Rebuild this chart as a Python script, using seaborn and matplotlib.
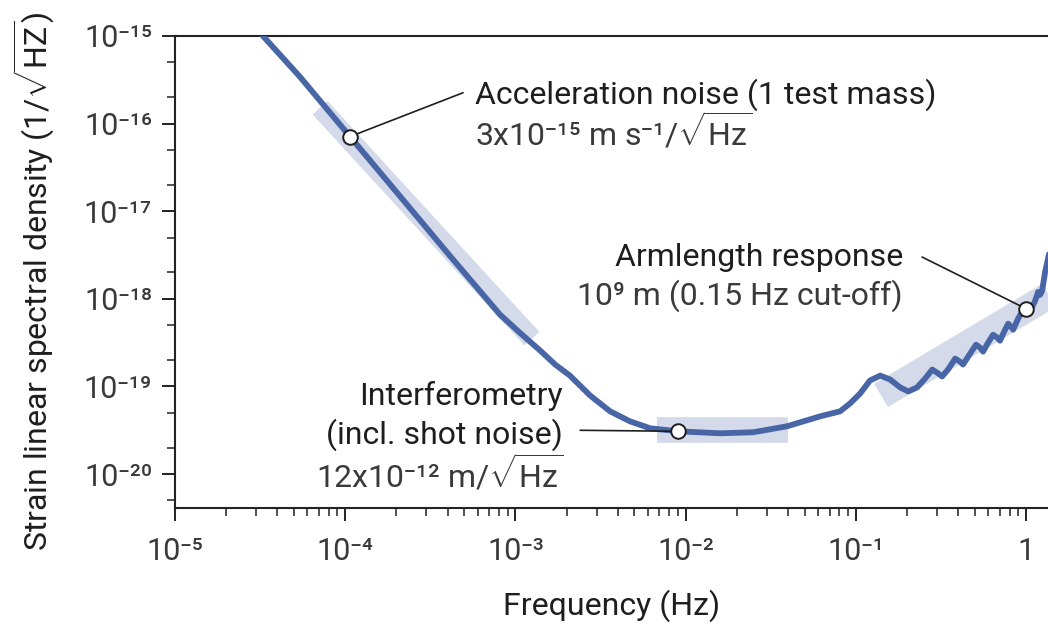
import matplotlib
matplotlib.use("Agg")
import matplotlib.pyplot as plt
import seaborn as sns
import pandas as pd

# ---------------- data ----------------
frequency_hz = [2.95e-5, 5.42e-5, 1.067e-4, 2.10e-4, 4.13e-4, 8.13e-4, 1.06e-3, 1.40e-3,
                1.71e-3, 2.09e-3, 2.74e-3, 3.60e-3, 4.71e-3, 6.18e-3, 9.02e-3,
                1.59e-2, 2.49e-2, 3.94e-2, 6.17e-2, 8.07e-2, 9.25e-2, 0.106,
                0.121, 0.139, 0.159, 0.182, 0.203, 0.229, 0.255, 0.281, 0.304,
                0.321, 0.348, 0.383, 0.409, 0.426, 0.469, 0.508, 0.537, 0.559,
                0.598, 0.640, 0.676, 0.703, 0.743, 0.784, 0.817, 0.839, 0.897,
                0.960, 1.014, 1.070, 1.130, 1.176, 1.208, 1.242, 1.294, 1.384]
strain_asd = [1.26e-15, 3.42e-16, 7.11e-17, 1.48e-17, 3.08e-18, 6.58e-19, 4.11e-19, 2.56e-19,
              1.78e-19, 1.33e-19, 7.91e-20, 5.20e-20, 4.00e-20, 3.33e-20, 3.08e-20,
              2.92e-20, 3.00e-20, 3.51e-20, 4.56e-20, 5.20e-20, 6.41e-20, 8.32e-20,
              1.17e-19, 1.33e-19, 1.20e-19, 9.75e-20, 8.77e-20, 9.75e-20, 1.23e-19,
              1.56e-19, 1.41e-19, 1.30e-19, 1.56e-19, 2.08e-19, 1.92e-19, 1.78e-19,
              2.37e-19, 3.00e-19, 2.77e-19, 2.50e-19, 3.16e-19, 3.90e-19, 3.61e-19,
              3.33e-19, 4.22e-19, 5.20e-19, 4.81e-19, 4.45e-19, 5.93e-19, 7.50e-19,
              7.91e-19, 7.69e-19, 9.49e-19, 1.20e-18, 1.11e-18, 1.23e-18, 2.03e-18,
              3.70e-18]

marker_freq = [1.067e-4, 9.02e-3, 1.0]
marker_strain = [7.11e-17, 3.08e-20, 7.7e-19]

band_freq_start = [7.11e-5, 6.79e-3, 0.1406]
band_strain_start = [1.52e-16, 3.16e-20, 7.91e-20]
band_freq_end = [1.25e-3, 4.0e-2, 1.585]
band_strain_end = [3.51e-19, 3.16e-20, 1.30e-18]
band_width_pt = [14.5, 18.5, 19.5]

leader_freq_end = [4.92e-4, 2.40e-3, 0.245]
leader_strain_end = [2.25e-16, 3.16e-20, 3.0e-18]

x_ticks = [1e-5, 1e-4, 1e-3, 1e-2, 1e-1, 1]
x_tick_labels = ["10⁻⁵", "10⁻⁴", "10⁻³", "10⁻²", "10⁻¹", "1"]
y_ticks = [1e-20, 1e-19, 1e-18, 1e-17, 1e-16, 1e-15]
y_tick_labels = ["10⁻²⁰", "10⁻¹⁹", "10⁻¹⁸", "10⁻¹⁷", "10⁻¹⁶", "10⁻¹⁵"]

# ---------------- style ----------------
sns.set_theme(style="ticks")
plt.rcParams["font.family"] = ["Roboto", "DejaVu Sans"]
plt.rcParams["mathtext.fontset"] = "custom"
plt.rcParams["mathtext.rm"] = "Roboto"
plt.rcParams["mathtext.it"] = "Roboto:italic"
plt.rcParams["mathtext.bf"] = "Roboto:bold"

LINE = "#4866a6"
BAND = "#d5daea"
TXT = "#1e1e1e"
TXT2 = "#3a3a3a"
FS = 23
TFS = 22

fig = plt.figure(figsize=(10.48, 6.26), dpi=100)
ax = fig.add_axes([0.167, 0.1885, 0.833, 0.754])

# shaded bands
for fs, ss, fe, se, w in zip(band_freq_start, band_strain_start, band_freq_end,
                             band_strain_end, band_width_pt):
    ax.plot([fs, fe], [ss, se], color=BAND, lw=w, solid_capstyle="butt", zorder=1)

df = pd.DataFrame({"f": frequency_hz, "h": strain_asd})
sns.lineplot(data=df, x="f", y="h", sort=False, estimator=None, ax=ax,
             color=LINE, lw=4.2, zorder=3)
main_line = ax.lines[-1]
main_line.set_solid_joinstyle("round")
main_line.set_solid_capstyle("round")

# leader lines
for mf, ms, lf, ls in zip(marker_freq, marker_strain, leader_freq_end, leader_strain_end):
    ax.plot([mf, lf], [ms, ls], color=TXT, lw=1.2, zorder=4)

ax.scatter(marker_freq, marker_strain, s=110, facecolor="white", edgecolor=TXT,
           linewidth=1.4, zorder=5)

ax.set_xscale("log")
ax.set_yscale("log")
ax.set_xlim(1e-5, 1.345)
ax.set_ylim(4.1e-21, 1e-15)

ax.set_xticks(x_ticks)
ax.set_xticklabels(x_tick_labels)
ax.set_yticks(y_ticks)
ax.set_yticklabels(y_tick_labels)
ax.xaxis.set_minor_locator(matplotlib.ticker.LogLocator(base=10, subs=range(2, 10), numticks=20))
ax.yaxis.set_minor_locator(matplotlib.ticker.LogLocator(base=10, subs=(2, 5), numticks=20))
ax.xaxis.set_minor_formatter(matplotlib.ticker.NullFormatter())
ax.yaxis.set_minor_formatter(matplotlib.ticker.NullFormatter())

ax.tick_params(which="major", length=9.5, width=1.4, color="#222222",
               labelsize=TFS, labelcolor=TXT2, direction="out")
ax.tick_params(which="minor", length=5.5, width=1.1, color="#222222", direction="out")
ax.tick_params(axis="y", which="major", pad=7)
ax.tick_params(axis="x", which="major", pad=11.5)

for side in ["left", "bottom", "top"]:
    ax.spines[side].set_linewidth(1.5)
    ax.spines[side].set_color("#222222")
ax.spines["right"].set_visible(False)

ax.set_xlabel("Frequency (Hz)", fontsize=FS, color=TXT)
ax.set_ylabel(r"Strain linear spectral density (1/$\sqrt{\mathrm{HZ}}$)", fontsize=FS,
              color=TXT)
ax.xaxis.set_label_coords(0.5, -0.172)
ax.yaxis.set_label_coords(-0.135, 0.48)

# annotations
ax.text(5.8e-4, 2.14e-16, "Acceleration noise (1 test mass)", fontsize=FS, color=TXT,
        ha="left", va="center")
ax.text(5.8e-4, 8.3e-17, r"3x10⁻¹⁵ m s⁻¹/$\sqrt{\mathrm{Hz}}$", fontsize=FS,
        color=TXT2, ha="left", va="center")
ax.text(0.189, 3.0e-18, "Armlength response", fontsize=FS, color=TXT, ha="right", va="center")
ax.text(0.189, 1.08e-18, "10⁹ m (0.15 Hz cut-off)", fontsize=FS, color=TXT2,
        ha="right", va="center")
ax.text(1.905e-3, 7.69e-20, "Interferometry", fontsize=FS, color=TXT, ha="right", va="center")
ax.text(1.905e-3, 2.85e-20, "(incl. shot noise)", fontsize=FS, color=TXT, ha="right", va="center")
ax.text(1.905e-3, 1.03e-20, r"12x10⁻¹² m/$\sqrt{\mathrm{Hz}}$", fontsize=FS,
        color=TXT2, ha="right", va="center")

fig.savefig("out.png", dpi=100)
